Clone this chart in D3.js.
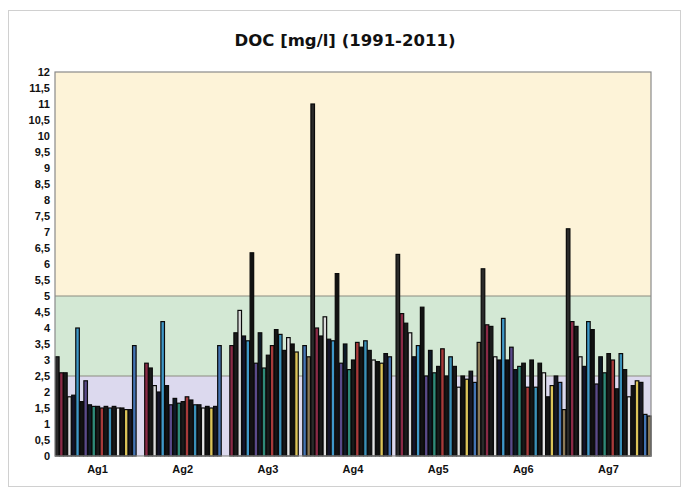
<!DOCTYPE html>
<html><head><meta charset="utf-8">
<script src="https://cdn.jsdelivr.net/npm/d3@7"></script>
<style>html,body{margin:0;padding:0;background:#fff;}svg{display:block;}</style>
</head><body>
<svg id="c" width="689" height="497"></svg>
<script>
const title = "DOC [mg/l] (1991-2011)";
const categories = ["Ag1","Ag2","Ag3","Ag4","Ag5","Ag6","Ag7"];
const years = d3.range(1991, 2012).map(String);
const yTicks = d3.range(0, 12.01, 0.5);
const bands = [
  {from:0, to:2.5, color:"#dcd9ee"},
  {from:2.5, to:5, color:"#d3e8d4"},
  {from:5, to:12, color:"#fdf3d8"}
];
const seriesColors = ["#2a2a2a","#8a2a46","#1a1a1a","#dcdcdc","#14142c","#3f98c8","#121212","#5a4a8a",
  "#0e1a28","#2f8a78","#1a1a1a","#a83a3a","#161616","#3a90b8","#181818","#e4e4e4","#121212","#dcc458",
  "#181826","#4474b4","#8c7a58"];
const ag1 = [3.1,2.6,2.6,1.85,1.9,4.0,1.7,2.35,1.6,1.55,1.55,1.5,1.55,1.5,1.55,1.5,1.5,1.45,1.45,3.45,null];
const ag2 = [null,2.9,2.75,2.2,2.0,4.2,2.2,1.6,1.8,1.65,1.7,1.85,1.75,1.6,1.6,1.5,1.55,1.5,1.55,3.45,null];
const ag3 = [null,3.45,3.85,4.55,3.75,3.6,6.35,2.9,3.85,2.75,3.15,3.45,3.95,3.8,3.3,3.7,3.5,3.25,null,3.45,3.1];
const ag4 = [11.0,4.0,3.75,4.35,3.65,3.6,5.7,2.9,3.5,2.7,3.0,3.55,3.4,3.6,3.3,3.0,2.95,2.9,3.2,3.1,null];
const ag5 = [6.3,4.45,4.15,3.85,3.1,3.45,4.65,2.5,3.3,2.6,2.8,3.35,2.5,3.1,2.8,2.15,2.5,2.4,2.65,2.3,3.55];
const ag6 = [5.85,4.1,4.05,3.1,3.0,4.3,3.0,3.4,2.7,2.8,2.9,2.15,3.0,2.15,2.9,2.6,1.85,2.2,2.5,2.3,1.45];
const ag7 = [7.1,4.2,4.05,3.1,2.8,4.2,3.95,2.25,3.1,2.6,3.2,3.0,2.1,3.2,2.7,1.85,2.2,2.35,2.3,1.3,1.25];
const groups = [ag1,ag2,ag3,ag4,ag5,ag6,ag7];

const svg = d3.select("#c");
const m = {l:55, r:38, t:72, b:41};
const W = 689, H = 497;
const x0 = d3.scaleBand().domain(categories).range([m.l, W-m.r]).paddingInner(0).paddingOuter(0);
const x1 = d3.scaleBand().domain(years).range([0, x0.bandwidth()]).padding(0);
const y = d3.scaleLinear().domain([0,12]).range([H-m.b, m.t]);
const fmt = v => String(v).replace(".", ",");
const font = "DejaVu Sans, Liberation Sans, Arial, sans-serif";

// outer frame
svg.append("rect").attr("x",8.5).attr("y",10.5).attr("width",672).attr("height",476)
  .attr("fill","#fff").attr("stroke","#d0d0d0");

svg.append("text").attr("x",345).attr("y",46).attr("text-anchor","middle")
  .attr("font-family",font).attr("font-weight","bold")
  .attr("font-size",16.5).attr("fill","#111").text(title);

// bands
svg.append("g").selectAll("rect").data(bands).join("rect")
  .attr("x", m.l).attr("width", W-m.r-m.l)
  .attr("y", d=>y(d.to)).attr("height", d=>y(d.from)-y(d.to))
  .attr("fill", d=>d.color);
svg.append("g").selectAll("line").data([2.5,5]).join("line")
  .attr("x1",m.l).attr("x2",W-m.r).attr("y1",d=>y(d)).attr("y2",d=>y(d))
  .attr("stroke","#8c8c80").attr("stroke-width",1.2);

// bars
const bars = [];
groups.forEach((g,gi)=>g.forEach((v,si)=>{ if(v!=null) bars.push({c:categories[gi], s:years[si], si, v}); }));
svg.append("g").selectAll("rect").data(bars).join("rect")
  .attr("x", d=>x0(d.c)+x1(d.s)+0.5)
  .attr("width", x1.bandwidth()-0.5)
  .attr("y", d=>y(d.v))
  .attr("height", d=>y(0)-y(d.v))
  .attr("fill", d=>seriesColors[d.si])
  .attr("stroke", "#0a0a0a").attr("stroke-width", 1.2);

// plot border
svg.append("rect").attr("x",m.l).attr("y",m.t).attr("width",W-m.r-m.l).attr("height",H-m.b-m.t)
  .attr("fill","none").attr("stroke","#8a8a8a").attr("stroke-width",1.2);

// axes
const ya = d3.axisLeft(y).tickValues(yTicks).tickFormat(fmt).tickSize(0).tickPadding(5);
const yg = svg.append("g").attr("transform",`translate(${m.l},0)`).call(ya);
yg.select(".domain").remove();
yg.selectAll("text").attr("font-family","Liberation Sans, Arial, sans-serif")
  .attr("font-weight","bold").attr("font-size",11).attr("fill","#111");

const xa = d3.axisBottom(x0).tickSize(0).tickPadding(9);
const xg = svg.append("g").attr("transform",`translate(0,${H-m.b})`).call(xa);
xg.select(".domain").remove();
xg.selectAll("text").attr("font-family","Liberation Sans, Arial, sans-serif")
  .attr("font-weight","bold").attr("font-size",11).attr("fill","#111");
</script>
</body></html>
